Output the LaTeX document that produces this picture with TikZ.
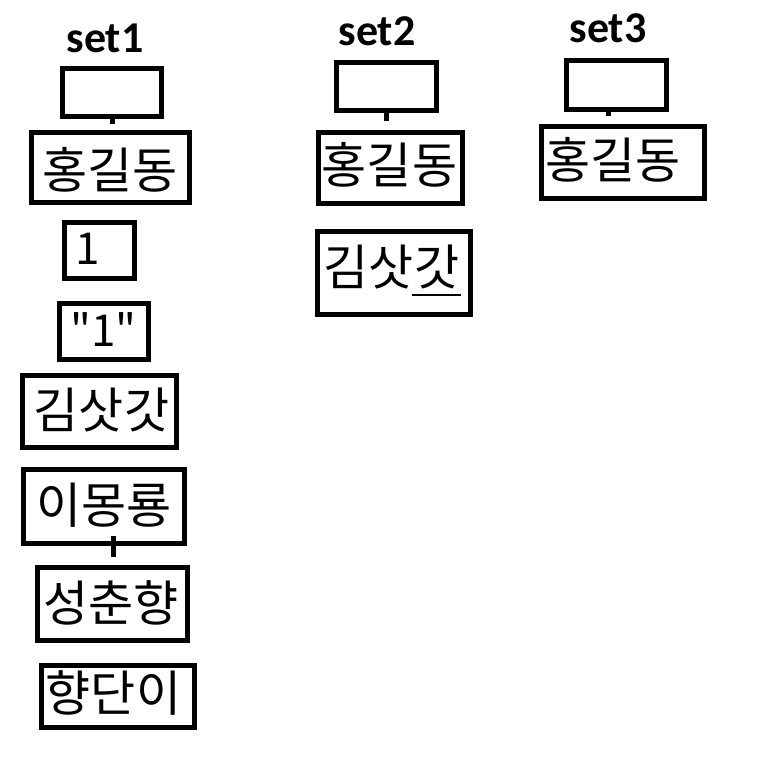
\documentclass[tikz,border=0pt]{standalone}
\usepackage{fontspec}
\newfontfamily\krfont{Noto Sans CJK KR}
\newfontfamily\setfont{Carlito}
\begin{document}
\begin{tikzpicture}[x=1pt,y=-1pt,
  box/.style={draw, line width=5pt, inner sep=0pt},
  tx/.style={inner sep=0pt, font=\krfont\fontsize{49}{49}\selectfont},
  numtx/.style={inner sep=0pt, font=\krfont\fontsize{44}{44}\selectfont},
  title/.style={inner sep=0pt, anchor=base, font=\setfont\bfseries\fontsize{44}{44}\selectfont},
  tickline/.style={line width=5pt},
  uline/.style={line width=2.5pt}]
\useasboundingbox (0,0) rectangle (771,780);
% titles
\node[title] (set1) at (105,52) {set1};
\node[title] (set2) at (377,45) {set2};
\node[title] (set3) at (608,42) {set3};
% set1 boxes
\node[box, minimum width=99pt, minimum height=48pt] (s1e) at (112,92.5) {};
\node[box, minimum width=158pt, minimum height=70pt] (s1a) at (110.5,167.5) {};
\node[box, minimum width=70pt, minimum height=56pt] (s1b) at (99.5,250.5) {};
\node[box, minimum width=89pt, minimum height=56pt] (s1c) at (104,331.5) {};
\node[box, minimum width=154pt, minimum height=72pt] (s1d) at (99.5,411.5) {};
\node[box, minimum width=161pt, minimum height=74pt] (s1f) at (104,506.5) {};
\node[box, minimum width=150pt, minimum height=73pt] (s1g) at (112.5,604) {};
\node[box, minimum width=153pt, minimum height=62pt] (s1h) at (118,696.5) {};
% set2 boxes
\node[box, minimum width=100pt, minimum height=48pt] (s2e) at (386.5,86.5) {};
\node[box, minimum width=144pt, minimum height=71pt] (s2a) at (390.5,168) {};
\node[box, minimum width=153pt, minimum height=83pt] (s2b) at (394,273) {};
% set3 boxes
\node[box, minimum width=100pt, minimum height=49pt] (s3e) at (616.5,85) {};
\node[box, minimum width=163pt, minimum height=72pt] (s3a) at (623,162.5) {};
% texts
\node[tx] (t1a) at (110,170) {홍길동};
\node[numtx] (t1b) at (87.5,249) {1};
\node[numtx] (t1c) at (103.5,330) {"1"};
\node[tx] (t1d) at (101.5,410) {김삿갓};
\node[tx] (t1f) at (104,505) {이몽룡};
\node[tx] (t1g) at (111,603) {성춘향};
\node[tx] (t1h) at (113.5,692.5) {향단이};
\node[tx] (t2a) at (389.5,164.5) {홍길동};
\node[tx] (t2b) at (391.5,267.5) {김삿갓};
\node[tx] (t3a) at (613,160) {홍길동};
% ticks
\coordinate (k1a) at (112.5,119); \coordinate (k1b) at (112.5,124);
\coordinate (k2a) at (113.5,536); \coordinate (k2b) at (113.5,557);
\coordinate (k3a) at (386.5,113); \coordinate (k3b) at (386.5,121);
\coordinate (k4a) at (608.5,112); \coordinate (k4b) at (608.5,116);
\draw[tickline] (k1a) -- (k1b);
\draw[tickline] (k2a) -- (k2b);
\draw[tickline] (k3a) -- (k3b);
\draw[tickline] (k4a) -- (k4b);
% underline
\coordinate (u1) at (412,295); \coordinate (u2) at (461,295);
\draw[uline] (u1) -- (u2);
\end{tikzpicture}
\end{document}
